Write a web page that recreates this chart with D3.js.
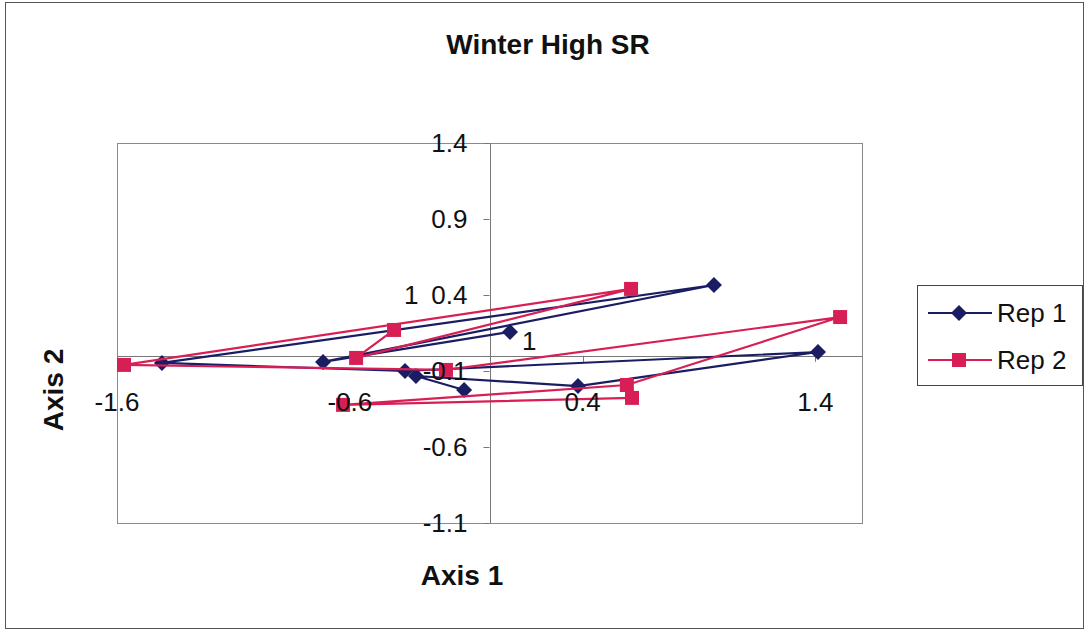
<!DOCTYPE html>
<html>
<head>
<meta charset="utf-8">
<script src="https://cdn.jsdelivr.net/npm/d3@7"></script>
<style>
  body { margin: 0; background: #fff; }
  text { font-family: Arial, "Liberation Sans", sans-serif; fill: #111; }
</style>
</head>
<body>
<script>
// values (axis 1 / axis 2 scores), in the order they are joined
var rep1X = [0.088, -0.715, 0.964, -1.407, -0.363, 1.411, 0.38, -0.316, -0.109]
var rep1Y = [0.157, -0.04, 0.466, -0.047, -0.1, 0.025, -0.199, -0.133, -0.225]
var rep2X = [-0.41, -0.573, 0.608, -1.57, -0.187, 1.506, 0.59, -0.629, 0.612]
var rep2Y = [0.17, -0.014, 0.44, -0.06, -0.093, 0.255, -0.192, -0.323, -0.277]

var xTicks = [-1.6, -0.6, 0.4, 1.4]
var yTicks = [-1.1, -0.6, -0.1, 0.4, 0.9, 1.4]
var seriesNames = ['Rep 1', 'Rep 2']
// the "1" labels on the first point of each rep
var noteX = [0.088, -0.333]
var noteY = [0.157, 0.4]

var width = 1090, height = 632
var navy = '#1b1d63', red = '#d81f55'

var svg = d3.select('body').append('svg')
  .attr('width', width).attr('height', height)

// chart area border
svg.append('rect')
  .attr('x', 5.5).attr('y', 2.5).attr('width', 1078).attr('height', 626)
  .attr('fill', '#fff').attr('stroke', '#555')

var x = d3.scaleLinear().domain([-1.6, 1.6]).range([117, 862])
var y = d3.scaleLinear().domain([-1.1, 1.4]).range([523, 143])
var fmt = d => d3.format('.1f')(d).replace('\u2212', '-')

// plot area
svg.append('rect')
  .attr('x', x(-1.6) + .5).attr('y', y(1.4) + .5)
  .attr('width', x(1.6) - x(-1.6)).attr('height', y(-1.1) - y(1.4))
  .attr('fill', '#fff').attr('stroke', '#8a8a8a')

// axes cross at zero
var ax = svg.append('g')
ax.append('line')
  .attr('x1', x(-1.6)).attr('x2', x(1.6))
  .attr('y1', Math.round(y(0)) + .5).attr('y2', Math.round(y(0)) + .5)
  .attr('stroke', '#777')
ax.append('line')
  .attr('x1', Math.round(x(0)) + .5).attr('x2', Math.round(x(0)) + .5)
  .attr('y1', y(1.4)).attr('y2', y(-1.1))
  .attr('stroke', '#777')

ax.selectAll('.xt').data(xTicks).join('line')
  .attr('x1', d => Math.round(x(d)) + .5).attr('x2', d => Math.round(x(d)) + .5)
  .attr('y1', y(0)).attr('y2', y(0) + 6)
  .attr('stroke', '#777')
ax.selectAll('.yt').data(yTicks).join('line')
  .attr('x1', x(0) - 6).attr('x2', x(0))
  .attr('y1', d => Math.round(y(d)) + .5).attr('y2', d => Math.round(y(d)) + .5)
  .attr('stroke', '#777')

// excel style markers
var diamond = 'M0,-8L8,0L0,8L-8,0Z'
var square = 'M-7,-7H7V7H-7Z'

var series = [
  {name: seriesNames[0], color: navy, pts: rep1X.map((v, i) => [v, rep1Y[i]]), mark: diamond},
  {name: seriesNames[1], color: red, pts: rep2X.map((v, i) => [v, rep2Y[i]]), mark: square}
]
var line = d3.line().x(d => x(d[0])).y(d => y(d[1]))

series.forEach(s => {
  var g = svg.append('g')
  g.append('path').attr('d', line(s.pts))
    .attr('fill', 'none').attr('stroke', s.color).attr('stroke-width', 2.2)
  g.selectAll('path.m').data(s.pts).join('path').attr('class', 'm')
    .attr('transform', d => `translate(${x(d[0])},${y(d[1])})`)
    .attr('d', s.mark)
    .attr('fill', s.color)
})

// tick labels (drawn over the marks, as in the scan)
svg.selectAll('.xl').data(xTicks).join('text')
  .attr('x', d => x(d)).attr('y', y(0) + 55)
  .attr('text-anchor', 'middle').attr('font-size', 26)
  .text(fmt)
svg.selectAll('.yl').data(yTicks).join('text')
  .attr('x', x(0) - 22).attr('y', d => y(d) + 9)
  .attr('text-anchor', 'end').attr('font-size', 26)
  .text(fmt)

// data labels
svg.selectAll('.nl').data(noteX).join('text')
  .attr('x', (d, i) => x(d) + (i == 0 ? 12 : -8))
  .attr('y', (d, i) => y(noteY[i]) + (i == 0 ? 18 : 9))
  .attr('font-size', 26)
  .text('1')

// titles
svg.append('text').attr('x', 548).attr('y', 54)
  .attr('text-anchor', 'middle').attr('font-size', 28).attr('font-weight', 'bold')
  .text('Winter High SR')
svg.append('text').attr('x', 462).attr('y', 585)
  .attr('text-anchor', 'middle').attr('font-size', 28).attr('font-weight', 'bold')
  .text('Axis 1')
svg.append('text').attr('transform', 'translate(63,390) rotate(-90)')
  .attr('text-anchor', 'middle').attr('font-size', 28).attr('font-weight', 'bold')
  .text('Axis 2')

// legend
var lg = svg.append('g').attr('transform', 'translate(917,285)')
lg.append('rect').attr('x', .5).attr('y', .5).attr('width', 165).attr('height', 100)
  .attr('fill', '#fff').attr('stroke', '#444')
var items = lg.selectAll('g').data(series).join('g')
  .attr('transform', (d, i) => `translate(0,${28 + i * 47})`)
items.append('line').attr('x1', 11).attr('x2', 75)
  .attr('stroke', d => d.color).attr('stroke-width', 2.2)
items.append('path').attr('transform', 'translate(42,0)')
  .attr('d', d => d.mark)
  .attr('fill', d => d.color)
items.append('text').attr('x', 80).attr('y', 9).attr('font-size', 26)
  .text(d => d.name)
</script>
</body>
</html>
